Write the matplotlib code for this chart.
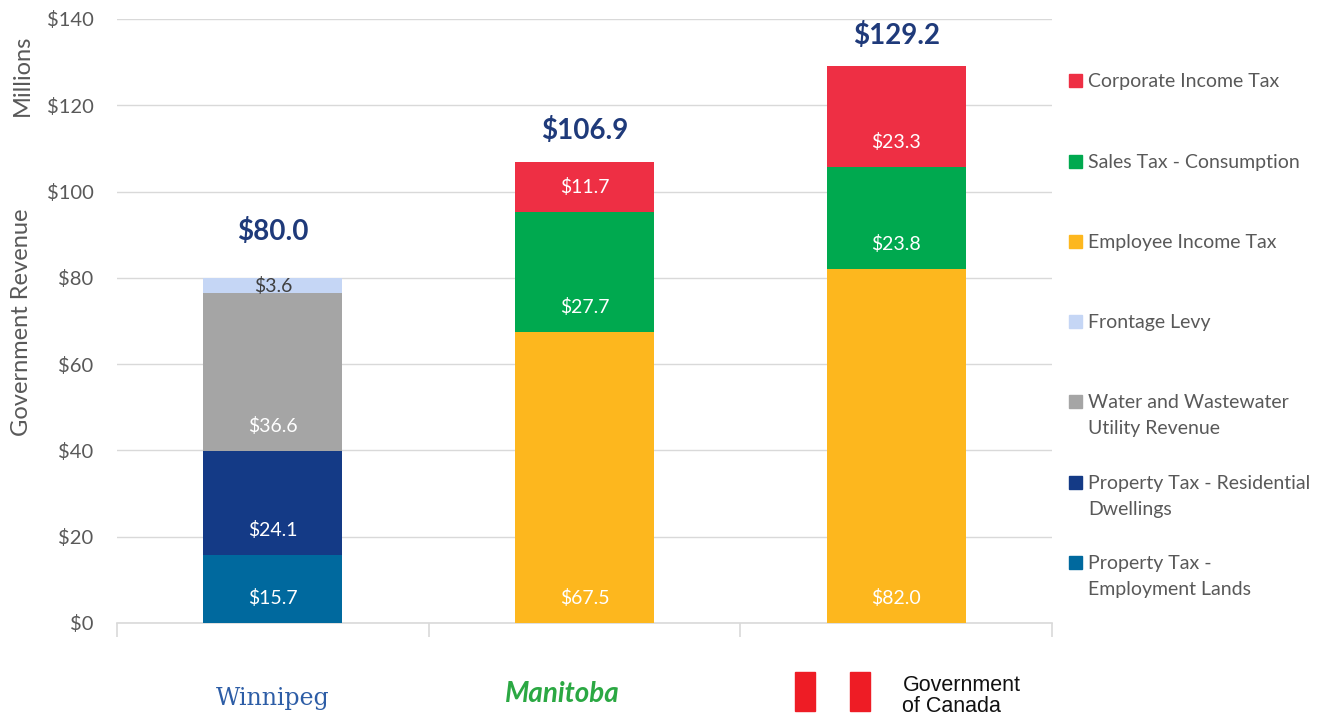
import matplotlib.pyplot as plt
from matplotlib.patches import Rectangle

plt.rcParams['font.family'] = ['Lato', 'DejaVu Sans']

# data
govs = ["Winnipeg", "Manitoba", "Government of Canada"]
totals = ["$80.0", "$106.9", "$129.2"]
series = [
    "Property Tax -\nEmployment Lands",
    "Property Tax - Residential\nDwellings",
    "Water and Wastewater\nUtility Revenue",
    "Frontage Levy",
    "Employee Income Tax",
    "Sales Tax - Consumption",
    "Corporate Income Tax",
]
emp_lands = [15.7, 0, 0]
res_dwell = [24.1, 0, 0]
water = [36.6, 0, 0]
frontage = [3.6, 0, 0]
emp_income = [0, 67.5, 82.0]
sales = [0, 27.7, 23.8]
corp = [0, 11.7, 23.3]
values = [emp_lands, res_dwell, water, frontage, emp_income, sales, corp]
colors = ["#00699E", "#143A86", "#A5A5A5", "#C5D6F5", "#FDB71E", "#00A94F", "#EE2F44"]
label_colors = ["white", "white", "white", "#404040", "white", "white", "white"]

fig = plt.figure(figsize=(13.33, 7.21), dpi=100)
ax = fig.add_axes([117 / 1333, 1 - 623 / 721, 935 / 1333, 604 / 721])

x = range(len(govs))
bottom = [0, 0, 0]
for vals, col, lc in zip(values, colors, label_colors):
    ax.bar(x, vals, bottom=bottom, width=0.446, color=col, zorder=3)
    for i, v in enumerate(vals):
        if v > 0:
            ax.text(i, bottom[i] + min(5.8, v / 2), "$%.1f" % v, ha="center", va="center",
                    color=lc, fontsize=14, zorder=4)
    bottom = [b + v for b, v in zip(bottom, vals)]

# totals above bars
offsets = [10.7, 7.2, 7.0]
for i, t in enumerate(totals):
    ax.text(i, bottom[i] + offsets[i], t, ha="center", va="center", color="#1F3A7A",
            fontsize=20, fontweight="bold")

ax.set_xlim(-0.5, 2.5)
ax.set_ylim(0, 140)
ax.set_yticks(range(0, 141, 20))
ax.set_yticklabels(["$%d" % v for v in range(0, 141, 20)])
ax.tick_params(axis="y", length=0, pad=17, labelsize=14.5, labelcolor="#595959")
ax.grid(axis="y", color="#D9D9D9", linewidth=1, zorder=0)
ax.set_xticks([])
ax.set_xticks([-0.5, 0.5, 1.5, 2.5], minor=True)
ax.tick_params(axis="x", which="minor", length=10, color="#D9D9D9", width=1.2)
for s in ["top", "right", "left"]:
    ax.spines[s].set_visible(False)
ax.spines["bottom"].set_color("#D9D9D9")
ax.spines["bottom"].set_linewidth(1.2)

# axis titles
fig.text(22 / 1333, 1 - 322 / 721, "Government Revenue", rotation=90, ha="center", va="center",
         fontsize=17, color="#595959")
fig.text(22 / 1333, 1 - 75 / 721, "Millions", rotation=90, ha="center", va="center",
         fontsize=17, color="#595959")

# category labels (logos in the original)
ax.text(0, -17.5, "Winnipeg", ha="center", va="center", fontsize=17, color="#2D5DA6",
        family="DejaVu Serif")
ax.text(0.93, -16.5, "Manitoba", ha="center", va="center", fontsize=20, color="#2BA843",
        fontweight="bold", fontstyle="italic")
ax.text(2.02, -17.0, "Government\nof Canada", ha="left", va="center", fontsize=15.5,
        color="#111111", family="Liberation Sans", linespacing=1.0)
fig.patches.append(Rectangle((795 / 1333, 1 - 711 / 721), 20 / 1333, 39 / 721,
                             transform=fig.transFigure, color="#EE1C25"))
fig.patches.append(Rectangle((850 / 1333, 1 - 711 / 721), 20 / 1333, 39 / 721,
                             transform=fig.transFigure, color="#EE1C25"))

# legend, drawn on the right
leg_y = [562, 482, 401, 321, 241, 161, 80]
for name, col, yy in zip(series, colors, leg_y):
    fig.patches.append(Rectangle((1069 / 1333, 1 - (yy + 6.5) / 721), 13 / 1333, 13 / 721,
                                 transform=fig.transFigure, color=col))
    fig.text(1088 / 1333, 1 - (yy - 7) / 721, name, ha="left", va="top", fontsize=14,
             color="#595959", linespacing=1.65)

fig.savefig("out.png", dpi=100)
